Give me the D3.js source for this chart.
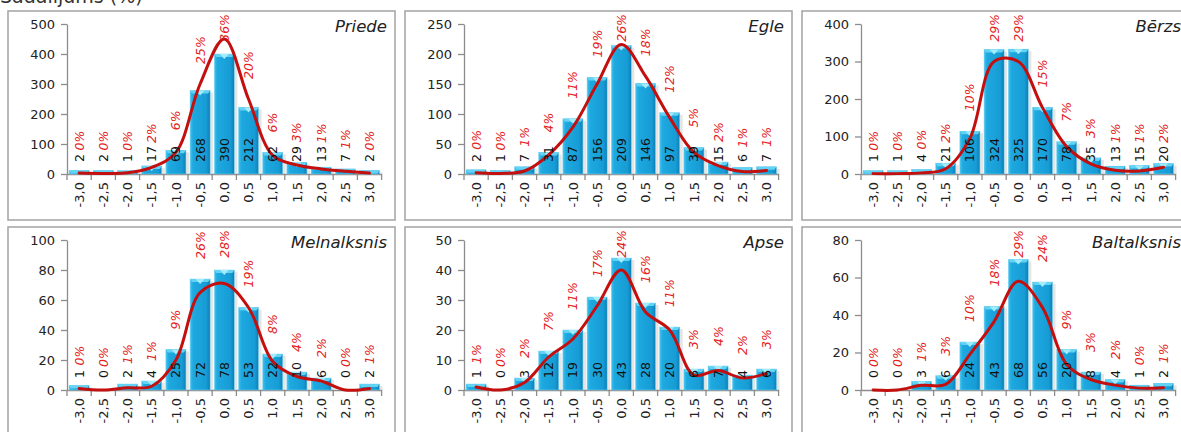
<!DOCTYPE html>
<html><head><meta charset="utf-8">
<script src="https://cdn.jsdelivr.net/npm/d3@7"></script>
<style>body{margin:0;background:#fff} svg{display:block}</style>
</head><body>
<svg id="c" width="1181" height="432"></svg>
<script>
const categories = ["-3,0","-2,5","-2,0","-1,5","-1,0","-0,5","0,0","0,5","1,0","1,5","2,0","2,5","3,0"];
const species = ["Priede","Egle","Bērzs","Melnalksnis","Apse","Baltalksnis"];

const priedeCounts = [2,2,1,17,69,268,390,212,62,29,13,7,2];
const priedePct    = [0,0,0,2,6,25,36,20,6,3,1,1,0];
const priedeCurve  = [3,2,4,22,72,300,450,250,62,30,17,9,3];

const egleCounts = [2,1,7,31,87,156,209,146,97,39,15,6,7];
const eglePct    = [0,0,1,4,11,19,26,18,12,5,2,1,1];
const egleCurve  = [2,1,5,32,78,150,216,163,94,36,14,4,6];

const berzsCounts = [1,1,4,21,106,324,325,170,78,35,13,15,20];
const berzsPct    = [0,0,0,2,10,29,29,15,7,3,1,1,2];
const berzsCurve  = [1,1,3,14,95,300,300,177,73,27,10,8,18];

const melnCounts = [1,0,2,4,25,72,78,53,22,10,6,0,2];
const melnPct    = [0,0,1,1,9,26,28,19,8,4,2,0,1];
const melnCurve  = [1,0,1.5,2.5,20,65,71,55,19,9,6,0,1];

const apseCounts = [1,0,3,12,19,30,43,28,20,6,7,4,6];
const apsePct    = [1,0,2,7,11,17,24,16,11,3,4,2,3];
const apseCurve  = [1,0,2.5,11,17,28,40,26,20,5,6.5,4,5.5];

const baltCounts = [0,0,3,6,24,43,68,56,20,8,4,1,2];
const baltPct    = [0,0,1,3,10,18,29,24,9,3,2,0,1];
const baltCurve  = [0,0,2.5,3,19,36.5,58,44,13.6,5.6,2.6,1,1.2];

const yMaxes = [500,250,400,100,50,80];
const yTickSteps = [100,50,100,20,10,20];

const countsList = [priedeCounts,egleCounts,berzsCounts,melnCounts,apseCounts,baltCounts];
const pctList = [priedePct,eglePct,berzsPct,melnPct,apsePct,baltPct];
const curveList = [priedeCurve,egleCurve,berzsCurve,melnCurve,apseCurve,baltCurve];

const FONT = "'DejaVu Sans', Verdana, sans-serif";
const svg = d3.select("#c");
const defs = svg.append("defs");
const grad = defs.append("linearGradient").attr("id","barGrad").attr("x1",0).attr("x2",1).attr("y1",0).attr("y2",0);
[[0,"#45c3ee"],[0.15,"#1ea9e0"],[0.8,"#179cd5"],[1,"#0c80b6"]].forEach(([o,c])=>grad.append("stop").attr("offset",o).attr("stop-color",c));

// clipped heading at very top (only lower part visible, as in the reference)
svg.append("text").attr("x",0).attr("y",3).attr("font-family",FONT).attr("font-size",19).attr("fill","#333").text("Sadalījums (%)");

const PW=387, PH=209, L=59, T=13, B=163, STEP=24.2, BEVEL=3;
const R = L + STEP*categories.length;

species.forEach((name,i)=>{
  const counts=countsList[i], pct=pctList[i], curve=curveList[i];
  const col=i%3,row=Math.floor(i/3);
  const gp = svg.append("g").attr("transform",`translate(${8+col*397},${11+row*216})`);
  gp.append("rect").attr("x",0).attr("y",0).attr("width",PW).attr("height",PH)
    .attr("fill","#fff").attr("stroke","#a3a3a3").attr("stroke-width",1.5);

  const x = d3.scaleBand().domain(categories).range([L,R]).paddingInner(0.17).paddingOuter(0.085);
  const y = d3.scaleLinear().domain([0,yMaxes[i]]).range([B,T]);
  const bw = x.bandwidth();

  // y axis
  const ya = gp.append("g").attr("transform",`translate(${L},0)`)
    .call(d3.axisLeft(y).tickValues(d3.range(0,yMaxes[i]+1,yTickSteps[i])).tickSize(6).tickSizeOuter(0).tickPadding(6));
  ya.select(".domain").attr("stroke","#8c8c8c").attr("stroke-width",1.3);
  ya.selectAll(".tick line").attr("stroke","#8c8c8c").attr("stroke-width",1.3);
  ya.selectAll(".tick text").attr("font-family",FONT).attr("font-size",13).attr("fill","#222");

  // x axis
  const xa = gp.append("g").attr("transform",`translate(0,${B})`)
    .call(d3.axisBottom(x).tickSize(0).tickSizeOuter(0));
  xa.select(".domain").attr("stroke","#8c8c8c").attr("stroke-width",1.3);
  xa.selectAll(".tick text").attr("font-family",FONT).attr("font-size",13).attr("fill","#222")
    .attr("transform","rotate(-90)").attr("x",-8).attr("y",0).attr("dy","0.36em").attr("text-anchor","end");
  const bounds = categories.map(c=>x(c)-x.step()*x.paddingInner()/2);
  bounds.push(x(categories[categories.length-1])+bw+x.step()*x.paddingInner()/2);
  xa.selectAll("line.bt").data(bounds).enter().append("line").attr("class","bt")
    .attr("x1",d=>d).attr("x2",d=>d).attr("y1",0).attr("y2",6).attr("stroke","#8c8c8c").attr("stroke-width",1.3);

  // bars (with a bevelled 3D-style cap)
  const bars = gp.append("g");
  categories.forEach((c,k)=>{
    const v = counts[k]; if(v<=0) return;
    const x0 = x(c), yt = y(v) - BEVEL, h = B - yt;
    bars.append("rect").attr("x",x0+bw).attr("y",yt+2).attr("width",3).attr("height",Math.max(0,h-2))
      .attr("fill","#b5b5b5").attr("opacity",0.35);
    bars.append("rect").attr("x",x0).attr("y",yt).attr("width",bw).attr("height",h)
      .attr("fill","url(#barGrad)").attr("stroke","#7fd3f0").attr("stroke-width",0.5);
    bars.append("polygon").attr("points",`${x0},${yt} ${x0+bw},${yt} ${x0+bw-2},${yt+3} ${x0+2},${yt+3}`).attr("fill","#62d3f4");
    if(h>8){
      bars.append("polygon").attr("points",`${x0+bw*0.28},${yt} ${x0+bw*0.72},${yt} ${x0+bw/2},${yt+5}`).attr("fill","#a2ecfc");
    }
  });

  // smoothed curve
  const line = d3.line().x((d,k)=>x(categories[k])+bw/2).y(d=>y(d)).curve(d3.curveCatmullRom.alpha(0.5));
  gp.append("path").datum(curve).attr("d",line).attr("fill","none").attr("stroke","#c40f0f").attr("stroke-width",3)
    .attr("stroke-linejoin","round").attr("stroke-linecap","round");

  // labels
  const lab = gp.append("g");
  categories.forEach((c,k)=>{
    const cx = x(c)+bw/2;
    const cy0 = B - 12;
    const ct = lab.append("text").attr("transform",`translate(${cx},${cy0}) rotate(-90)`).attr("dy","0.36em")
      .attr("font-family",FONT).attr("font-size",12.5).attr("fill","#111").text(counts[k]);
    const clen = ct.node().getComputedTextLength();
    const countTop = cy0 - clen;
    const pt = lab.append("text").attr("dy","0.36em")
      .attr("font-family",FONT).attr("font-size",12.5).attr("font-style","italic").attr("fill","#e3221c").text(pct[k]+"%");
    const plen = pt.node().getComputedTextLength();
    let pb = Math.min(y(counts[k]) - BEVEL, y(curve[k])) - 20;
    pb = Math.min(pb, countTop - 3);
    pb = Math.max(pb, 3 + plen);
    pt.attr("transform",`translate(${cx},${pb}) rotate(-90)`);
  });

  // title
  gp.append("text").attr("x",PW-8).attr("y",21).attr("text-anchor","end")
    .attr("font-family",FONT).attr("font-style","italic").attr("font-size",16.5).attr("fill","#222").text(name);
});
</script>
</body></html>
